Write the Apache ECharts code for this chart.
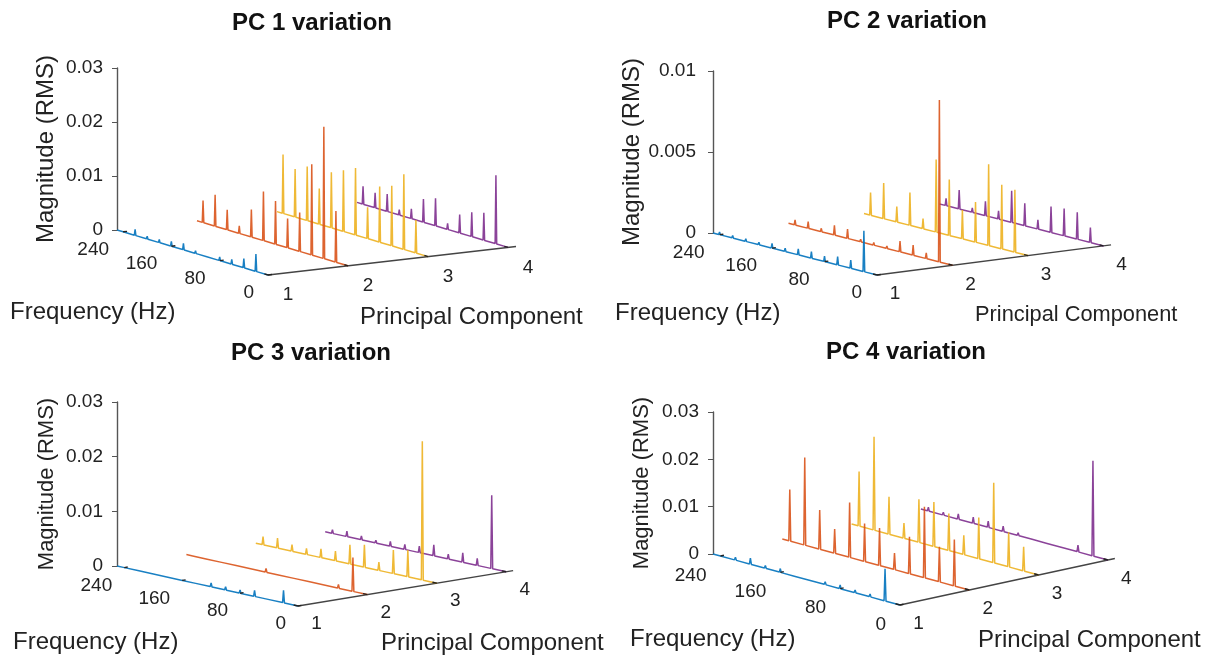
<!DOCTYPE html>
<html>
<head>
<meta charset="utf-8">
<script src="https://cdn.jsdelivr.net/npm/echarts@6/dist/echarts.min.js"></script>
<style>
html,body{margin:0;padding:0;background:#fff;}
#main{width:1213px;height:656px;}
</style>
</head>
<body>
<div id="main"></div>
<script>
// harmonics, listed from the back of the frequency axis to the front
var harmonics = [240,220,200,180,160,140,120,100,80,60,40,20];
var freqTicks = [0,80,160,240];
var pcTicks = [1,2,3,4];
var FMAX = 250;
var PCMAX = 4.1;

// PC 1 variation
var pc1Blue   = [.0003,.0011,.0005,.0006,.0009,.0012,.0005,.0004,.0007,.0009,.0017,.0032];
var pc1Red    = [.0041,.0058,.0037,.0014,.0051,.0091,.0080,.0054,.0072,.0168,.0244,.0095];
var pc1Yellow = [.0109,.0089,.0100,.0066,.0103,.0113,.0124,.0058,.0103,.0111,.0139,.0061];
var pc1Purple = [.0033,.0028,.0032,.0010,.0018,.0043,.0051,.0011,.0034,.0045,.0051,.0127];
// PC 2 variation
var pc2Blue   = [.00016,.00016,.00016,.00016,.00029,.00021,.00037,.00041,.00033,.00051,.00051,.00253];
var pc2Red    = [.00031,.00041,.00021,.0006,.00057,.00016,.00016,.00016,.00066,.00062,.00035,.01];
var pc2Yellow = [.0014,.0022,.00096,.00203,.00062,.00448,.00345,.00177,.00248,.00501,.00396,.00386];
var pc2Purple = [.00045,.00117,.00027,.00088,.00051,.00195,.00138,.00057,.0016,.00168,.00166,.00092];
// PC 3 variation
var pc3Blue   = [.0002,.0001,.0001,.0001,.0002,.0002,.0007,.0006,.0006,.0011,.0002,.0023];
var pc3Red    = [.0001,.0001,.0004,.0004,.0002,.0007,.0002,.0003,.0004,.0002,.0007,.0062];
var pc3Yellow = [.0015,.0018,.0012,.0011,.0016,.0018,.0035,.0041,.0015,.0043,.0049,.0254];
var pc3Purple = [.0007,.001,.0007,.0005,.0009,.0009,.0012,.002,.0009,.0017,.0013,.0134];
// PC 4 variation
var pc4Blue   = [.0004,.0006,.0013,.0006,.0008,.0004,.0004,.0006,.0008,.0006,.0006,.0068];
var pc4Red    = [.0109,.0185,.0083,.0051,.0116,.008,.0079,.0035,.0078,.015,.0074,.0098];
var pc4Yellow = [.0115,.0197,.0079,.0032,.0091,.0094,.0078,.0041,.0087,.0169,.0073,.0051];
var pc4Purple = [.0008,.0006,.0011,.0013,.0013,.0011,.0006,.0004,.0002,.0002,.0014,.0201];

var colors = ['#0072BD','#D95319','#EDB120','#7E2F8E'];
var textColor = '#222';
var fontName = '"Liberation Sans", Arial, sans-serif';

// layout of each panel: grid box, projection of the PC and frequency directions, text spots
var panels = [
	{title:'PC 1 variation', titleX:307, titleY:20, spectra:[pc1Blue,pc1Red,pc1Yellow,pc1Purple], zMax:.03, zStep:.01,
	 left:117, top:68, width:151, height:162, fDrop:45, pcDx:80, pcDy:-9.2, nameGap:59, nameSize:24, tickSize:19, tickGap:14,
	 fOff:[-14,18], pcOff:[20,20], freq:[10,311,24], comp:[360,316,24]},
	{title:'PC 2 variation', titleX:902, titleY:18, spectra:[pc2Blue,pc2Red,pc2Yellow,pc2Purple], zMax:.01, zStep:.005,
	 left:713, top:71, width:164, height:162, fDrop:42, pcDx:75.5, pcDy:-9.7, nameGap:69, nameSize:24, tickSize:19, tickGap:17,
	 fOff:[-15,18], pcOff:[18,19], freq:[615,312,24], comp:[975,314,21.8]},
	{title:'PC 3 variation', titleX:306, titleY:350, spectra:[pc3Blue,pc3Red,pc3Yellow,pc3Purple], zMax:.03, zStep:.01,
	 left:117, top:402, width:181, height:164, fDrop:40, pcDx:69.4, pcDy:-11.4, nameGap:59, nameSize:22, tickSize:19, tickGap:14,
	 fOff:[-12,18], pcOff:[18.5,18], freq:[13,641,24], comp:[381,642,24]},
	{title:'PC 4 variation', titleX:901, titleY:349, spectra:[pc4Blue,pc4Red,pc4Yellow,pc4Purple], zMax:.03, zStep:.01,
	 left:713, top:412, width:187, height:142, fDrop:51, pcDx:69.3, pcDy:-15, nameGap:60, nameSize:22, tickSize:19, tickGap:14,
	 fOff:[-14,19.5], pcOff:[18.5,19], freq:[630,638,24], comp:[978,639,24]}
];

// map (frequency, pc, magnitude) to the panel's hidden x axis and magnitude y axis
function project(p, f, pc, mag){
	var back = FMAX - f;
	return [
		back + (pc-1)*p.pcDx/p.width*FMAX,
		mag - (back/FMAX*p.fDrop + (pc-1)*p.pcDy)/p.height*p.zMax
	];
}

function spectrumLine(p, pc, values){
	var pts = [project(p, FMAX, pc, 0)];
	for(var i=0;i<harmonics.length;i++){
		pts.push(project(p, harmonics[i]+1.3, pc, 0));
		pts.push(project(p, harmonics[i], pc, values[i]));
		pts.push(project(p, harmonics[i]-1.3, pc, 0));
	}
	pts.push(project(p, 0, pc, 0));
	return pts;
}

var option = {
	animation:false,
	backgroundColor:'#fff',
	title:[], grid:[], xAxis:[], yAxis:[], series:[], graphic:[]
};

panels.forEach(function(p, n){
	option.title.push({
		text:p.title, left:p.titleX, top:p.titleY-14, textAlign:'center',
		textStyle:{fontFamily:fontName, fontSize:24, fontWeight:'bold', color:'#111'}
	});
	// the grid also holds the sideways run of the PC direction
	var run = (PCMAX-1)*p.pcDx;
	option.grid.push({left:p.left, top:p.top, width:p.width+run, height:p.height});
	option.xAxis.push({gridIndex:n, type:'value', min:0, max:FMAX*(1+run/p.width), show:false});
	option.yAxis.push({
		gridIndex:n, type:'value', min:0, max:p.zMax, interval:p.zStep,
		name:'Magnitude (RMS)', nameLocation:'middle', nameGap:p.nameGap, nameRotate:90,
		nameTextStyle:{fontFamily:fontName, fontSize:p.nameSize, color:textColor},
		axisLine:{show:true, lineStyle:{color:'#555', width:1.4}},
		axisTick:{show:true, inside:false, length:5, lineStyle:{color:'#555'}},
		axisLabel:{fontFamily:fontName, fontSize:p.tickSize, color:textColor, margin:p.tickGap},
		splitLine:{show:false}
	});

	// back to front so the nearer spectra cover the farther ones
	for(var k=3;k>=0;k--){
		option.series.push({
			type:'line', xAxisIndex:n, yAxisIndex:n, clip:false, showSymbol:false, silent:true,
			data:spectrumLine(p, k+1, p.spectra[k]),
			lineStyle:{color:colors[k], width:1.5, opacity:.9}, z:3
		});
	}
	// principal component axis
	option.series.push({
		type:'line', xAxisIndex:n, yAxisIndex:n, clip:false, showSymbol:false, silent:true,
		data:[project(p,0,1,0), project(p,0,PCMAX,0)],
		lineStyle:{color:'#444', width:1.4}, z:2
	});
	// frequency ticks and labels
	option.series.push({
		type:'custom', xAxisIndex:n, yAxisIndex:n, clip:false, silent:true, z:4,
		data:freqTicks.map(function(f){ return project(p,f,1,0); }),
		renderItem:function(params, api){
			var f = freqTicks[params.dataIndex];
			var a = api.coord(project(p,f,1,0));
			var b = api.coord(project(p,f,1.05,0));
			return {type:'group', children:[
				{type:'line', shape:{x1:a[0],y1:a[1],x2:b[0],y2:b[1]}, style:{stroke:'#222',lineWidth:1.4}},
				{type:'text', x:a[0]+p.fOff[0], y:a[1]+p.fOff[1], style:{
					text:String(f), fontFamily:fontName, fontSize:p.tickSize, fill:textColor, align:'right', verticalAlign:'middle'}}
			]};
		}
	});
	// principal component ticks and labels
	option.series.push({
		type:'custom', xAxisIndex:n, yAxisIndex:n, clip:false, silent:true, z:4,
		data:pcTicks.map(function(c){ return project(p,0,c,0); }),
		renderItem:function(params, api){
			var c = pcTicks[params.dataIndex];
			var a = api.coord(project(p,0,c,0));
			var b = api.coord(project(p,6,c,0));
			return {type:'group', children:[
				{type:'line', shape:{x1:a[0],y1:a[1],x2:b[0],y2:b[1]}, style:{stroke:'#222',lineWidth:1.4}},
				{type:'text', x:a[0]+p.pcOff[0], y:a[1]+p.pcOff[1], style:{
					text:String(c), fontFamily:fontName, fontSize:p.tickSize, fill:textColor, align:'center', verticalAlign:'middle'}}
			]};
		}
	});

	option.graphic.push({type:'text', left:p.freq[0], top:p.freq[1]-p.freq[2]*.45, silent:true, style:{
		text:'Frequency (Hz)', fontFamily:fontName, fontSize:p.freq[2], fill:textColor}});
	option.graphic.push({type:'text', left:p.comp[0], top:p.comp[1]-p.comp[2]*.45, silent:true, style:{
		text:'Principal Component', fontFamily:fontName, fontSize:p.comp[2], fill:textColor}});
});

echarts.init(document.getElementById('main'), null, {renderer:'canvas'}).setOption(option);
</script>
</body>
</html>
